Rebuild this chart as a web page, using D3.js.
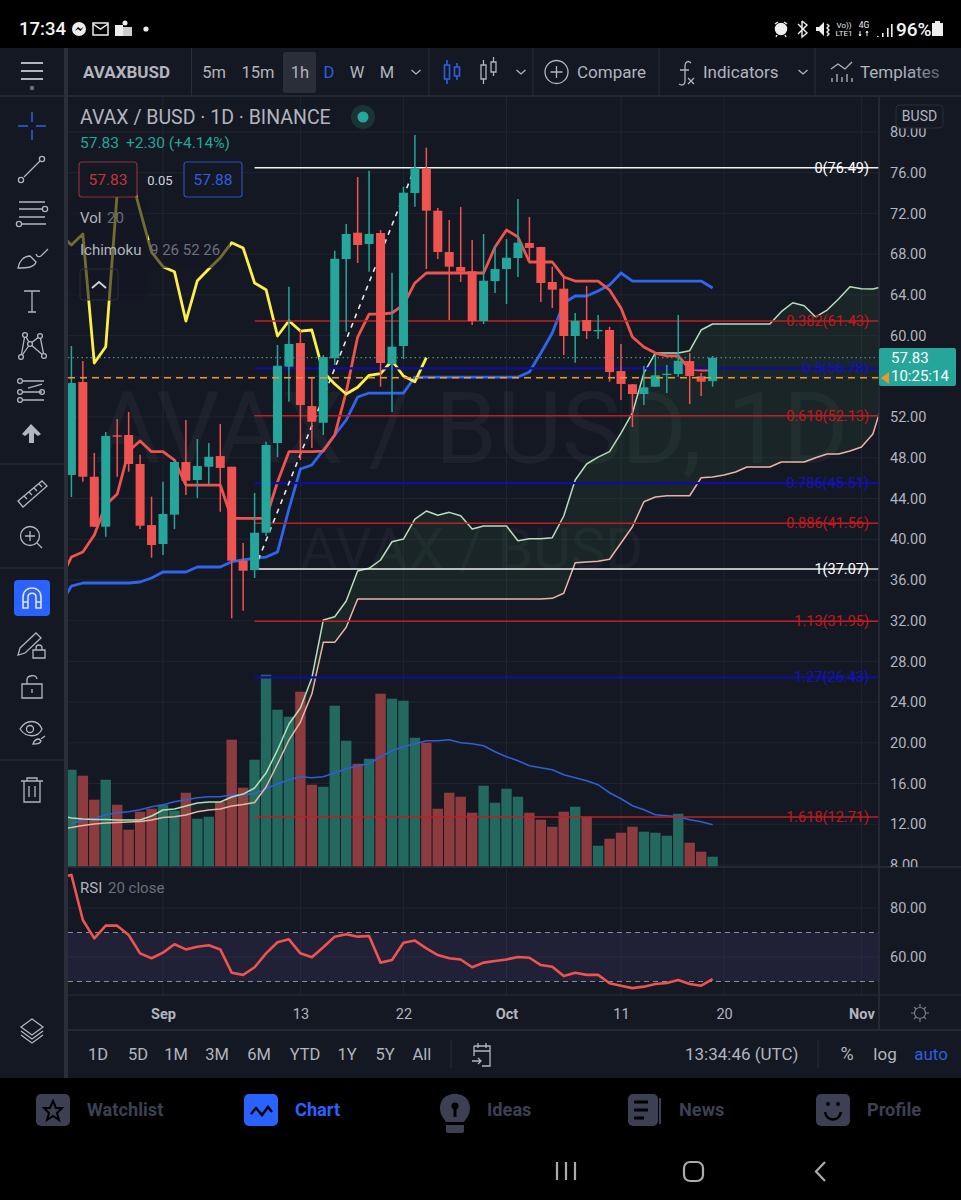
<!DOCTYPE html>
<html>
<head>
<meta charset="utf-8">
<script src="https://cdn.jsdelivr.net/npm/d3@7"></script>
<style>
  html, body { margin: 0; padding: 0; background: #000; }
  svg { display: block; }
  text { font-family: Roboto, sans-serif; }
</style>
</head>
<body>
<svg id="chart" width="961" height="1200"></svg>
<script>
// candles, Aug 24 to Oct 19 2021
const opens = [46.31,55.44,46.14,41.23,50.21,50.24,47.39,41.39,39.53,42.41,47.58,45.82,47.12,48.17,47.12,37.89,36.97,40.64,49.45,56.95,59.27,53.08,51.44,57.77,67.52,70.11,69.00,70.08,57.21,58.98,74.01,76.39,72.27,68.21,66.74,66.32,61.43,65.36,66.54,67.62,69.10,68.70,65.27,64.61,59.96,61.53,60.42,60.55,56.52,55.22,54.26,54.98,56.13,56.23,57.50,56.00,55.53];
const highs = [58.98,57.51,48.47,50.53,51.81,52.50,48.30,44.18,45.65,47.78,51.71,49.84,49.45,51.32,47.12,39.63,44.54,49.58,59.08,64.80,60.55,55.84,58.09,68.34,70.96,75.58,76.20,70.37,66.18,74.63,79.71,78.46,72.53,71.36,72.63,69.39,69.98,68.80,69.49,73.42,71.65,68.73,66.77,65.66,62.22,64.87,62.02,60.87,59.18,55.25,57.01,58.09,57.11,62.02,58.29,56.33,58.00];
const lows = [44.15,45.65,41.20,40.25,46.14,46.63,41.00,38.18,38.45,41.00,44.34,44.05,45.42,42.70,32.23,32.98,36.19,40.31,48.07,53.51,47.78,48.96,50.24,57.11,60.38,67.13,66.28,54.98,52.50,57.70,72.66,66.54,67.52,61.53,65.27,61.04,61.14,64.18,63.10,65.76,67.26,63.30,62.71,58.09,57.34,59.67,59.67,55.47,53.67,51.02,53.18,54.98,54.36,55.96,53.28,54.07,54.98];
const closes = [55.34,46.14,41.23,50.14,50.07,47.39,41.33,39.43,42.48,47.58,45.75,47.19,48.10,47.00,37.89,36.91,40.64,49.25,57.04,59.18,53.18,51.54,57.90,67.55,69.98,68.90,69.98,57.31,58.91,74.04,76.49,72.27,68.21,66.77,66.28,61.43,65.39,66.54,67.65,69.13,68.61,65.17,64.51,59.96,61.46,60.45,60.55,56.42,55.25,54.26,54.92,56.10,56.26,57.53,56.03,55.47,57.83];
const volumes = [97,91,67,87,62,37,55,58,62,56,74,48,50,65,127,79,107,192,157,150,175,82,80,161,126,103,108,173,168,166,129,124,58,74,70,54,81,64,78,70,54,47,40,55,60,50,21,28,34,40,35,34,31,53,24,15,10];
const volumeMa = [43,47,48,52,54,55,57,60,62,65,67,69,70,70,72,72,73,78,83,87,90,89,90,94,98,101,103,110,116,120,123,126,126,127,124,123,121,115,110,106,101,99,97,92,89,86,82,74,68,61,57,52,51,50,47,45,42];
const rsiValues = [92.5,93.5,75.1,67.6,72.8,72.8,69,61.5,59.5,61.8,65.2,63.1,64.2,64.8,63.1,53.6,52.7,55.8,61.5,66,67.2,61.5,59.9,64,68.3,69.3,68.3,68.6,57.7,58.8,65.8,66.7,63.5,60.8,59.5,59,55.8,57.7,58.4,59,60,59.7,56.7,56,52.2,53.6,52.7,52.7,49.3,48.3,47.3,47.9,49,49.4,50.6,49,48.3,51];

// ichimoku, first value sits one day left of the first candle
const conversionLine = [36.00,38.25,38.74,40.41,43.36,44.44,48.66,49.65,48.60,48.60,47.78,45.32,45.32,45.32,45.32,42.05,42.05,42.05,42.05,45.62,48.60,48.60,48.60,48.66,50.24,54.46,59.86,62.12,62.12,62.22,63.01,65.17,66.15,66.15,66.15,66.15,66.15,66.15,68.70,70.37,69.69,67.23,67.23,67.23,65.76,65.36,65.36,65.36,64.48,62.71,59.86,58.88,58.29,58.00,58.00,56.72,56.62,56.62];
const baseLine = [33.54,35.40,35.70,35.70,35.70,35.70,35.70,35.80,36.19,36.78,36.78,36.78,37.27,37.27,37.27,37.79,37.96,38.15,38.25,38.74,42.97,46.90,47.29,48.76,50.24,51.71,53.97,54.36,54.36,54.36,54.36,55.93,55.93,55.93,55.93,55.93,55.93,55.93,55.93,55.93,55.93,56.42,58.29,60.26,63.20,63.89,63.89,64.38,64.97,66.15,65.36,65.36,65.36,65.36,65.36,65.36,65.36,64.68];
const laggingSpan = [69.98,68.90,69.98,57.31,58.91,74.04,76.49,72.27,68.21,66.77,66.28,61.43,65.39,66.54,67.65,69.13,68.61,65.17,64.51,59.96,61.46,60.45,60.55,56.42,55.25,54.26,54.92,56.10,56.26,57.53,56.03,55.47,57.83];
const leadA = [12.91,12.61,12.52,12.47,12.47,12.42,12.42,12.42,12.81,13.40,13.50,13.79,14.09,14.19,14.19,14.68,14.97,15.56,17.03,19.29,21.85,23.42,26.37,32.06,32.39,33.93,36.88,37.14,37.96,39.75,40.02,41.98,42.77,42.35,42.64,42.31,41.00,41.30,41.30,41.30,39.85,40.05,40.05,40.15,42.28,45.82,47.39,48.07,48.60,50.43,52.40,56.33,58.29,58.29,58.29,58.52,60.55,61.14,61.14,61.14,61.14,61.14,61.14,62.35,63.23,62.94,61.83,62.51,63.60,64.80,64.61,64.58,64.87];
const leadB = [11.53,11.68,11.88,12.02,12.12,12.17,12.22,12.27,12.42,12.66,12.74,12.91,13.23,13.40,13.50,13.79,13.94,14.14,15.66,17.92,20.28,22.04,24.79,29.87,29.87,31.35,34.13,34.13,34.13,34.13,34.13,34.13,34.13,34.13,34.13,34.13,34.13,34.13,34.13,34.13,34.13,34.13,34.13,34.19,34.69,37.69,37.76,37.83,38.03,39.63,41.23,43.68,44.15,44.27,44.27,44.27,46.04,46.11,46.31,46.60,47.09,47.09,47.09,47.58,47.58,47.58,48.01,48.37,48.37,48.66,49.06,50.33,53.97];

// fib retracement
const fibRatios = ["0","0.382","0.5","0.618","0.786","0.886","1","1.13","1.27","1.618"];
const fibPrices = [76.49,61.43,56.78,52.13,45.51,41.56,37.07,31.95,26.43,12.71];
const fibKinds = ["white","red","blue","red","blue","red","white","red","blue","red"];

const priceTicks = [80,76,72,68,64,60,56,52,48,44,40,36,32,28,24,20,16,12,8];
const rsiTicks = [80,60];
const timeTicks = ["2021-09-01","2021-09-13","2021-09-22","2021-10-01","2021-10-11","2021-10-20","2021-11-01"];
const timeLabels = ["Sep","13","22","Oct","11","20","Nov"];
const rangeButtons = ["1D","5D","1M","3M","6M","YTD","1Y","5Y","All"];
const rangeCenters = [98,138,176,217,259,305,347,385,422];

const lastPrice = 57.83, prevClosePrice = 55.85;

const Bg = "#141823", Line = "#2a2e39", Grid = "#1f2430", Txt = "#b2b5be", Dim = "#6d7079",
    Teal = "#26a69a", Red = "#ef5350", Blue = "#2962ff", NavGrey = "#3c4052";
const paneL = 68, paneR = 879, mainT = 97, mainB = 867, rsiB = 995;

const svg = d3.select("#chart");
const defs = svg.append("defs");
const addClip = function (id, x, y, w, h) {
    defs.append("clipPath").attr("id", id).append("rect")
        .attr("x", x).attr("y", y).attr("width", w).attr("height", h);
};
addClip("main-clip", paneL, mainT, paneR - paneL, mainB - mainT);
addClip("rsi-clip", paneL, mainB, paneR - paneL, rsiB - mainB);
addClip("axis-clip", paneR, mainT, 82, mainB - mainT);

const firstDay = new Date(Date.UTC(2021, 7, 24));
const dayAt = i => d3.utcDay.offset(firstDay, i);
const x = d3.scaleUtc().domain([dayAt(0), dayAt(56)]).range([71.4, 712.6]);
const y = d3.scaleLinear().domain([80, 8]).range([132, 865]);
const yVol = d3.scaleLinear().domain([0, 200]).range([866.7, 666.7]);
const yRsi = d3.scaleLinear().domain([80, 60]).range([908, 957]);

const rect = (g, a, b, w, h, fill) => g.append("rect").attr("x", a).attr("y", b).attr("width", w).attr("height", h).attr("fill", fill);
const hline = (g, x1, x2, yy, c, sw) => g.append("line").attr("x1", x1).attr("x2", x2).attr("y1", yy).attr("y2", yy).attr("stroke", c).attr("stroke-width", sw || 1);
const vline = (g, xx, y1, y2, c, sw) => g.append("line").attr("x1", xx).attr("x2", xx).attr("y1", y1).attr("y2", y2).attr("stroke", c).attr("stroke-width", sw || 1);
const label = function (g, a, b, str, size, fill, anchor, weight) {
    return g.append("text").attr("x", a).attr("y", b).attr("dy", "0.35em")
        .attr("font-size", size).attr("fill", fill)
        .attr("text-anchor", anchor || "start").attr("font-weight", weight || 400).text(str);
};

// backgrounds
rect(svg, 0, 0, 961, 1200, "#000");
rect(svg, 0, 48, 961, 1030, Bg);

// ---- main pane
const main = svg.append("g").attr("clip-path", "url(#main-clip)");
priceTicks.forEach(p => hline(main, paneL, paneR, y(p), Grid));
timeTicks.forEach(t => vline(main, x(new Date(t)), mainT, mainB, Grid));

label(main, 95, 428, "AVAX / BUSD, 1D", 100, "#fff").attr("opacity", 0.035);
label(main, 300, 549, "AVAX / BUSD", 58, "#fff").attr("opacity", 0.03);

const barW = 10.4, bodyW = 9;
main.append("g").selectAll("rect").data(volumes).enter().append("rect")
    .attr("x", (d, i) => x(dayAt(i)) - barW / 2)
    .attr("width", barW)
    .attr("y", d => yVol(d))
    .attr("height", d => yVol(0) - yVol(d))
    .attr("fill", (d, i) => closes[i] >= opens[i] ? "#23695f" : "#8c3c3e");

const volLine = d3.line().x((d, i) => x(dayAt(i))).y(d => yVol(d));
main.append("path").attr("d", volLine(volumeMa)).attr("fill", "none")
    .attr("stroke", "#2f5fd8").attr("stroke-width", 1.6);

// ichimoku cloud and lines
const cloud = d3.area().x((d, i) => x(dayAt(i - 1))).y0((d, i) => y(leadB[i])).y1(d => y(d));
main.append("path").attr("d", cloud(leadA)).attr("fill", "#4caf50").attr("opacity", 0.09);
const seriesLine = offset => d3.line().x((d, i) => x(dayAt(i + offset))).y(d => y(d));
const drawLine = function (values, color, width) {
    main.append("path").attr("d", seriesLine(-1)(values)).attr("fill", "none")
        .attr("stroke", color).attr("stroke-width", width).attr("stroke-linejoin", "round");
};
drawLine(leadA, "#b8dcbc", 1.5);
drawLine(leadB, "#eab4ac", 1.5);
drawLine(baseLine, "#2f66f0", 2.8);
drawLine(conversionLine, Red, 2.8);
drawLine(laggingSpan, "#fdee4a", 2.8);

// fib levels and their diagonal
const fibStart = x(dayAt(16));
const fibColor = { white: "#f2f2f2", red: "#bd1f23", blue: "#0f0f9c" };
const fibWidth = { white: 1.6, red: 1.5, blue: 2.2 };
fibPrices.forEach(function (p, i) {
    hline(main, fibStart, paneR, y(p), fibColor[fibKinds[i]], fibWidth[fibKinds[i]]);
});
main.append("line")
    .attr("x1", x(dayAt(16))).attr("y1", y(fibPrices[6]))
    .attr("x2", x(dayAt(30))).attr("y2", y(fibPrices[0]))
    .attr("stroke", "#e8e8e8").attr("stroke-width", 1.6).attr("stroke-dasharray", "5 5");
fibPrices.forEach(function (p, i) {
    const kind = fibKinds[i];
    label(main, 869, y(p), fibRatios[i] + "(" + p.toFixed(2) + ")", 14.5,
        kind === "white" ? "#fff" : (kind === "red" ? "#c0191d" : "#1414b4"), "end");
});

// candles
const candleColor = i => closes[i] >= opens[i] ? Teal : Red;
main.append("g").selectAll("line").data(closes).enter().append("line")
    .attr("x1", (d, i) => x(dayAt(i))).attr("x2", (d, i) => x(dayAt(i)))
    .attr("y1", (d, i) => y(highs[i])).attr("y2", (d, i) => y(lows[i]))
    .attr("stroke", (d, i) => candleColor(i)).attr("stroke-width", 1.5);
main.append("g").selectAll("rect").data(closes).enter().append("rect")
    .attr("x", (d, i) => x(dayAt(i)) - bodyW / 2).attr("width", bodyW)
    .attr("y", (d, i) => y(Math.max(opens[i], d)))
    .attr("height", (d, i) => Math.max(1.2, Math.abs(y(opens[i]) - y(d))))
    .attr("fill", (d, i) => candleColor(i));

// last price lines
hline(main, paneL, paneR, y(lastPrice), "#4f8a80", 1.2).attr("stroke-dasharray", "1.5 3");
hline(main, paneL, paneR, y(prevClosePrice), "#f0962a", 1.5).attr("stroke-dasharray", "7 5");

// backing of the legend rows dims what runs under it
rect(svg, paneL, 197, 80, 103, Bg).attr("opacity", 0.6);
rect(svg, 148, 240, 82, 28, Bg).attr("opacity", 0.6);

// ---- legend
label(svg, 80, 117, "AVAX / BUSD · 1D · BINANCE", 19.5, Txt);
svg.append("circle").attr("cx", 363).attr("cy", 117).attr("r", 12).attr("fill", "#1b3334");
svg.append("circle").attr("cx", 363).attr("cy", 117).attr("r", 5.5).attr("fill", Teal);
label(svg, 80, 143, "57.83", 15.5, Teal);
label(svg, 126, 143, "+2.30 (+4.14%)", 15.5, Teal);
rect(svg, 79, 162, 58, 35, Bg).attr("stroke", "#8c3038").attr("stroke-width", 1.2).attr("rx", 3);
label(svg, 108, 180, "57.83", 15.5, "#c8343c", "middle");
label(svg, 160, 180, "0.05", 13, "#d1d4dc", "middle");
rect(svg, 184, 162, 58, 35, Bg).attr("stroke", "#2a4fc0").attr("stroke-width", 1.2).attr("rx", 3);
label(svg, 213, 180, "57.88", 15.5, "#2f5fe0", "middle");
label(svg, 80, 218, "Vol", 15, Txt);
label(svg, 107, 218, "20", 15, Dim);
label(svg, 80, 250, "Ichimoku", 15, Txt);
label(svg, 150, 250, "9 26 52 26", 15, Dim);
rect(svg, 80, 269, 38, 31, "none").attr("stroke", Line).attr("rx", 3);
svg.append("path").attr("d", "M92 288l7-6 7 6").attr("fill", "none").attr("stroke", "#d1d4dc").attr("stroke-width", 1.8);

// ---- rsi pane
const rsiG = svg.append("g").attr("clip-path", "url(#rsi-clip)");
rsiTicks.forEach(v => hline(rsiG, paneL, paneR, yRsi(v), Grid));
timeTicks.forEach(t => vline(rsiG, x(new Date(t)), mainB, rsiB, Grid));
rect(rsiG, paneL, yRsi(70), paneR - paneL, yRsi(50) - yRsi(70), "#7e57c2").attr("opacity", 0.12);
[70, 50].forEach(v => hline(rsiG, paneL, paneR, yRsi(v), "#8a8d96").attr("stroke-dasharray", "5 4"));
rsiG.append("path")
    .attr("d", d3.line().x((d, i) => x(dayAt(i - 1))).y(d => yRsi(d))(rsiValues))
    .attr("fill", "none").attr("stroke", Red).attr("stroke-width", 2.6).attr("stroke-linejoin", "round");
label(svg, 80, 888, "RSI", 15, Txt);
label(svg, 108, 888, "20 close", 15, Dim);

// ---- axes
hline(svg, paneL, 961, mainB, Line, 1.5);
hline(svg, paneL, 961, rsiB, Line, 1);
hline(svg, paneL, 961, 1030, Line, 1.5);
vline(svg, paneR, mainT, 1030, Line, 1.5);

// the 56.00 tick sits under the price label, so it gets a grid line only
const priceAxis = d3.axisRight(y).tickValues(priceTicks.filter(p => p !== 56)).tickSize(0).tickPadding(11)
    .tickFormat(d3.format(".2f"));
const priceG = svg.append("g").attr("clip-path", "url(#axis-clip)")
    .append("g").attr("transform", "translate(" + paneR + ",0)").call(priceAxis);
const rsiAxis = d3.axisRight(yRsi).tickValues(rsiTicks).tickSize(0).tickPadding(11)
    .tickFormat(d3.format(".2f"));
const rsiAxisG = svg.append("g").attr("transform", "translate(" + paneR + ",0)").call(rsiAxis);
const timeAxis = d3.axisBottom(x).tickValues(timeTicks.map(t => new Date(t))).tickSize(0)
    .tickFormat((d, i) => timeLabels[i]);
const timeG = svg.append("g").attr("transform", "translate(0,1006)").call(timeAxis);
[priceG, rsiAxisG, timeG].forEach(function (g) {
    g.select(".domain").remove();
    g.selectAll("text").attr("font-size", 14.5).attr("fill", Txt).attr("font-family", "Roboto, sans-serif");
});
timeG.selectAll("text").attr("font-weight", (d, i) => /[a-z]/.test(timeLabels[i]) ? 700 : 400);

// currency tag and price label on the axis
rect(svg, 896, 105, 47, 23, Bg).attr("stroke", Line).attr("rx", 4);
label(svg, 919.5, 116.5, "BUSD", 14, Txt, "middle");
rect(svg, paneR, 348, 77, 38, Teal).attr("rx", 2);
label(svg, 891, 358, "57.83", 15, "#fff");
label(svg, 891, 376, "10:25:14", 15, "#fff");
svg.append("path").attr("d", "M881 378l8-6v12z").attr("fill", "#f0962a");

// sun icon
const sun = svg.append("g").attr("fill", "none").attr("stroke", "#7a7d86").attr("stroke-width", 1.2);
sun.append("circle").attr("cx", 920).attr("cy", 1013).attr("r", 5.5);
sun.append("path").attr("d", "M920 1004v3M920 1019v3M911 1013h3M926 1013h3M914 1007l2 2M924 1017l2 2M926 1007l-2 2M916 1017l-2 2");

// ---- top toolbar
hline(svg, 0, 961, 96, Line, 1.5);
[66, 191.5, 429, 533, 659, 815].forEach(a => vline(svg, a, 48, 96, Line, a === 66 ? 4 : 1));
label(svg, 83, 72, "AVAXBUSD", 17, Txt, "start", 700);
rect(svg, 283, 52, 33, 41, "#2a2e39").attr("rx", 2);
const periods = ["5m", "15m", "1h", "D", "W", "M"], periodCenters = [214, 258, 300, 329, 357, 387];
periods.forEach((p, i) => label(svg, periodCenters[i], 72, p, 16.5, p === "D" ? "#2f5fe0" : Txt, "middle"));
const chevron = a => svg.append("path").attr("d", "M" + (a - 4.5) + " 70l4.5 4 4.5-4").attr("fill", "none").attr("stroke", Txt).attr("stroke-width", 1.3);
[416, 521, 803].forEach(chevron);
const tool = svg.append("g").attr("fill", "none").attr("stroke", Txt).attr("stroke-width", 1.3);
const bluecandle = svg.append("g").attr("fill", "none").attr("stroke", "#2f5fe0").attr("stroke-width", 1.6);
bluecandle.append("path").attr("d", "M444.5 65h5v14h-5zM447 60v5M447 79v5M454.5 67h5v9h-5zM457 63v4M457 76v4");
tool.append("path").attr("d", "M481 65h5v14h-5zM483.5 60v5M483.5 79v5M491 62h5v10h-5zM493.5 57v5M493.5 72v4");
tool.append("circle").attr("cx", 556.5).attr("cy", 72).attr("r", 11.5);
tool.append("path").attr("d", "M556.5 66v12M550.5 72h12");
label(svg, 577, 72, "Compare", 17, Txt);
tool.append("path").attr("d", "M691 63c-3-3-6-1-6 3v15c0 4-3 5-6 3M680 70h9M688 78l6 6M694 78l-6 6");
label(svg, 703, 72, "Indicators", 17, Txt);
tool.append("path").attr("d", "M831 69l7-5 7 5 7-7M832 82v-4M837 82v-8M842 82v-5M847 82v-8M852 82v-4");
const tpl = defs.append("linearGradient").attr("id", "tpl-fade");
tpl.append("stop").attr("offset", "60%").attr("stop-color", Txt);
tpl.append("stop").attr("offset", "100%").attr("stop-color", "#5d606a");
label(svg, 860, 72, "Templates", 17, "url(#tpl-fade)");

// ---- left toolbar
vline(svg, 66, 96, 1078, Line, 4);
[464, 568, 760].forEach(s => hline(svg, 0, 64, s, Line, 1));
const left = svg.append("g").attr("fill", "none").attr("stroke", Txt).attr("stroke-width", 1.3);
left.append("path").attr("stroke-width", 2).attr("d", "M21 63h22M21 71h22M21 79h22");
svg.append("circle").attr("cx", 32).attr("cy", 88).attr("r", 2.2).attr("fill", "#6d7079");
svg.append("path").attr("fill", "none").attr("stroke", "#2f5fe0").attr("stroke-width", 1.5)
    .attr("d", "M18 126h10M36 126h10M32 112v10M32 130v10");
left.append("path").attr("d", "M24 177l16-16");
left.append("circle").attr("cx", 21).attr("cy", 180).attr("r", 2.6);
left.append("circle").attr("cx", 42).attr("cy", 159).attr("r", 2.6);
left.append("path").attr("d", "M19 202h26M19 209h23M19 217h26M22 224h24");
left.append("circle").attr("cx", 45).attr("cy", 209).attr("r", 2.6);
left.append("circle").attr("cx", 19).attr("cy", 224).attr("r", 2.6);
left.append("path").attr("d", "M18 268c1-7 6-12 12-12l6 6c-2 6-10 6-18 6zM36 254c1 3 3 3 5 2l7-7");
left.append("path").attr("d", "M24 291h16M32 291v21M28 312h8");
left.append("path").attr("d", "M21 357l4-22 5 9 10-8 4 20-14-12zM25 335l5 9M40 336l-10 8");
[[21, 357], [25, 335], [30, 344], [40, 336], [44, 356]].forEach(p => left.append("circle").attr("cx", p[0]).attr("cy", p[1]).attr("r", 2.4).attr("fill", Bg));
left.append("path").attr("d", "M23 381h21M23 392h19M23 400h21M28 388l14-4");
[[20, 381], [20, 392], [42, 392], [20, 400]].forEach(p => left.append("circle").attr("cx", p[0]).attr("cy", p[1]).attr("r", 2.4));
svg.append("path").attr("d", "M31 424l10 10-3 2-4-3v10h-5v-10l-4 3-3-2z").attr("fill", "#b2b5be");
left.append("path").attr("d", "M18 501l24-20 5 5-24 21zM24 496l3 3M29 492l3 3M34 488l3 3M39 484l3 3");
left.append("circle").attr("cx", 30).attr("cy", 536).attr("r", 9.5);
left.append("path").attr("d", "M30 531v10M25 536h10M37 543l5 5");
rect(svg, 14, 580, 36, 36, "#2962ff").attr("rx", 4);
svg.append("path").attr("fill", "none").attr("stroke", "#e6e9f5").attr("stroke-width", 1.5)
    .attr("d", "M23 608v-11c0-12 18-12 18 0v11h-5v-11c0-5-8-5-8 0v11zM23 602h5M36 602h5");
left.append("path").attr("d", "M20 648l16-15 5 5-16 15-7 2zM33 650h12v8H33zM36 650v-2c0-4 6-4 6 0v2");
left.append("path").attr("d", "M22 684h20v14H22zM27 684v-4c0-5 9-6 10-1M32 689v4");
left.append("path").attr("d", "M20 729c6-10 18-10 22 0-4 9-16 9-22 0z");
left.append("circle").attr("cx", 30).attr("cy", 729).attr("r", 3.5);
left.append("path").attr("d", "M33 744c1-3 3-5 6-5l2 2c-1 3-4 3-8 3zM41 739l4-3");
left.append("path").attr("d", "M21 781h22M27 781v-3h10v3M24 781v21h16v-21M29 786v11M35 786v11");
left.append("path").attr("d", "M32 1019l11 8-11 8-11-8zM21 1031l11 8 11-8M21 1035l11 8 11-8");

// ---- bottom toolbar
rangeButtons.forEach((b, i) => label(svg, rangeCenters[i], 1054, b, 16.5, Txt, "middle"));
vline(svg, 451, 1040, 1068, Line);
vline(svg, 818, 1040, 1068, Line);
left.append("path").attr("d", "M474 1046h16v20h-8M474 1046v10M474 1051h16M478 1043v5M486 1043v5M472 1061h9M478 1058l3 3-3 3");
label(svg, 685, 1054, "13:34:46 (UTC)", 17, Txt);
label(svg, 847, 1054, "%", 18, Txt, "middle");
label(svg, 885, 1054, "log", 17, Txt, "middle");
label(svg, 931, 1054, "auto", 17, "#2f5fe0", "middle");

// ---- app nav
const navItems = ["Watchlist", "Chart", "Ideas", "News", "Profile"], navText = [87, 295, 487, 679, 867], navIcon = [36, 244, 440, 628, 816];
navItems.forEach(function (n, i) {
    label(svg, navText[i], 1110, n, 18.2, n === "Chart" ? Blue : NavGrey, "start", 700);
    if (n !== "Ideas") rect(svg, navIcon[i], 1094, n === "News" ? 30 : 34, 32, n === "Chart" ? Blue : NavGrey).attr("rx", 5);
});
svg.append("path").attr("d", "M53 1101l3 7h6l-5 5 2 7-6-4-6 4 2-7-5-5h6z").attr("fill", "none").attr("stroke", "#000").attr("stroke-width", 2);
svg.append("path").attr("d", "M251 1114l5-6 6 7 6-8 4 5").attr("fill", "none").attr("stroke", "#000").attr("stroke-width", 2.4);
svg.append("path").attr("d", "M440 1108c0-19 30-19 30 0 0 7-4 11-6 14h-18c-2-3-6-7-6-14zM446 1125h18v6c0 1-1 2-2 2h-14c-1 0-2-1-2-2z").attr("fill", NavGrey);
svg.append("path").attr("d", "M455 1106v11").attr("stroke", "#000").attr("stroke-width", 3);
svg.append("circle").attr("cx", 455).attr("cy", 1106).attr("r", 3.5).attr("fill", "#000");
vline(svg, 660, 1098, 1124, NavGrey, 2);
svg.append("path").attr("d", "M634 1102h14M634 1110h14M634 1118h10").attr("stroke", "#000").attr("stroke-width", 3);
svg.append("path").attr("d", "M825 1112c2 10 14 10 16 0").attr("fill", "none").attr("stroke", "#000").attr("stroke-width", 2.6);
[828, 838].forEach(a => svg.append("circle").attr("cx", a).attr("cy", 1104).attr("r", 2).attr("fill", "#000"));

// ---- phone bars
const sys = svg.append("g").attr("fill", "none").attr("stroke", "#a9abad").attr("stroke-width", 2.2);
sys.append("path").attr("d", "M557 1162v18M566 1162v18M575 1162v18");
sys.append("rect").attr("x", 684).attr("y", 1162).attr("width", 19).attr("height", 19).attr("rx", 6);
sys.append("path").attr("d", "M825 1162l-9 9.5 9 9.5");

label(svg, 19, 29, "17:34", 18.5, "#f5f5f5", "start", 500);
svg.append("circle").attr("cx", 79).attr("cy", 29).attr("r", 7).attr("fill", "#eee");
svg.append("path").attr("d", "M75 31l3-4 2.5 2 3-2-3 4-2.5-2z").attr("fill", "#000");
rect(svg, 93, 23, 15, 12, "none").attr("stroke", "#eee").attr("stroke-width", 1.5);
svg.append("path").attr("d", "M93 24l7.5 5 7.5-5").attr("fill", "none").attr("stroke", "#eee").attr("stroke-width", 1.5);
rect(svg, 115, 25, 8, 11, "#eee");
rect(svg, 123, 27, 9, 9, "#ccc");
svg.append("circle").attr("cx", 125).attr("cy", 23).attr("r", 2.5).attr("fill", "#eee");
svg.append("circle").attr("cx", 146).attr("cy", 29).attr("r", 2.6).attr("fill", "#eee");

const st = svg.append("g").attr("stroke", "#eee").attr("fill", "none").attr("stroke-width", 1.4);
st.append("circle").attr("cx", 781).attr("cy", 29).attr("r", 5.5).attr("fill", "#eee");
st.append("path").attr("d", "M775 24l3-2M787 24l-3-2M777 35l-1 2M785 35l1 2");
st.append("path").attr("d", "M802 21v16l5-4-9-9M802 21l5 4-9 9");
svg.append("path").attr("d", "M816 27h3l5-5v14l-5-5h-3z").attr("fill", "#eee");
st.append("path").attr("d", "M827 24l2 2-2 2 2 2-2 2 2 2-2 2");
label(svg, 844, 25, "Vo))", 8, "#eee", "middle");
label(svg, 844, 33, "LTE1", 8, "#eee", "middle");
label(svg, 864, 25, "4G", 8.5, "#eee", "middle");
svg.append("path").attr("d", "M860 31v5M859 34l1 2 1-2M867 36v-5M866 33l1-2 1 2").attr("stroke", "#eee").attr("fill", "none");
[[877, 36, 1], [882, 33, 4], [887, 28, 9], [891, 24, 13]].forEach(s => rect(svg, s[0], s[1], 1.6, s[2], "#eee"));
label(svg, 896, 29, "96%", 19, "#f5f5f5", "start", 500);
rect(svg, 932, 23, 11, 13, "#eee");
rect(svg, 935, 21, 5, 2, "#eee");
</script>
</body>
</html>
